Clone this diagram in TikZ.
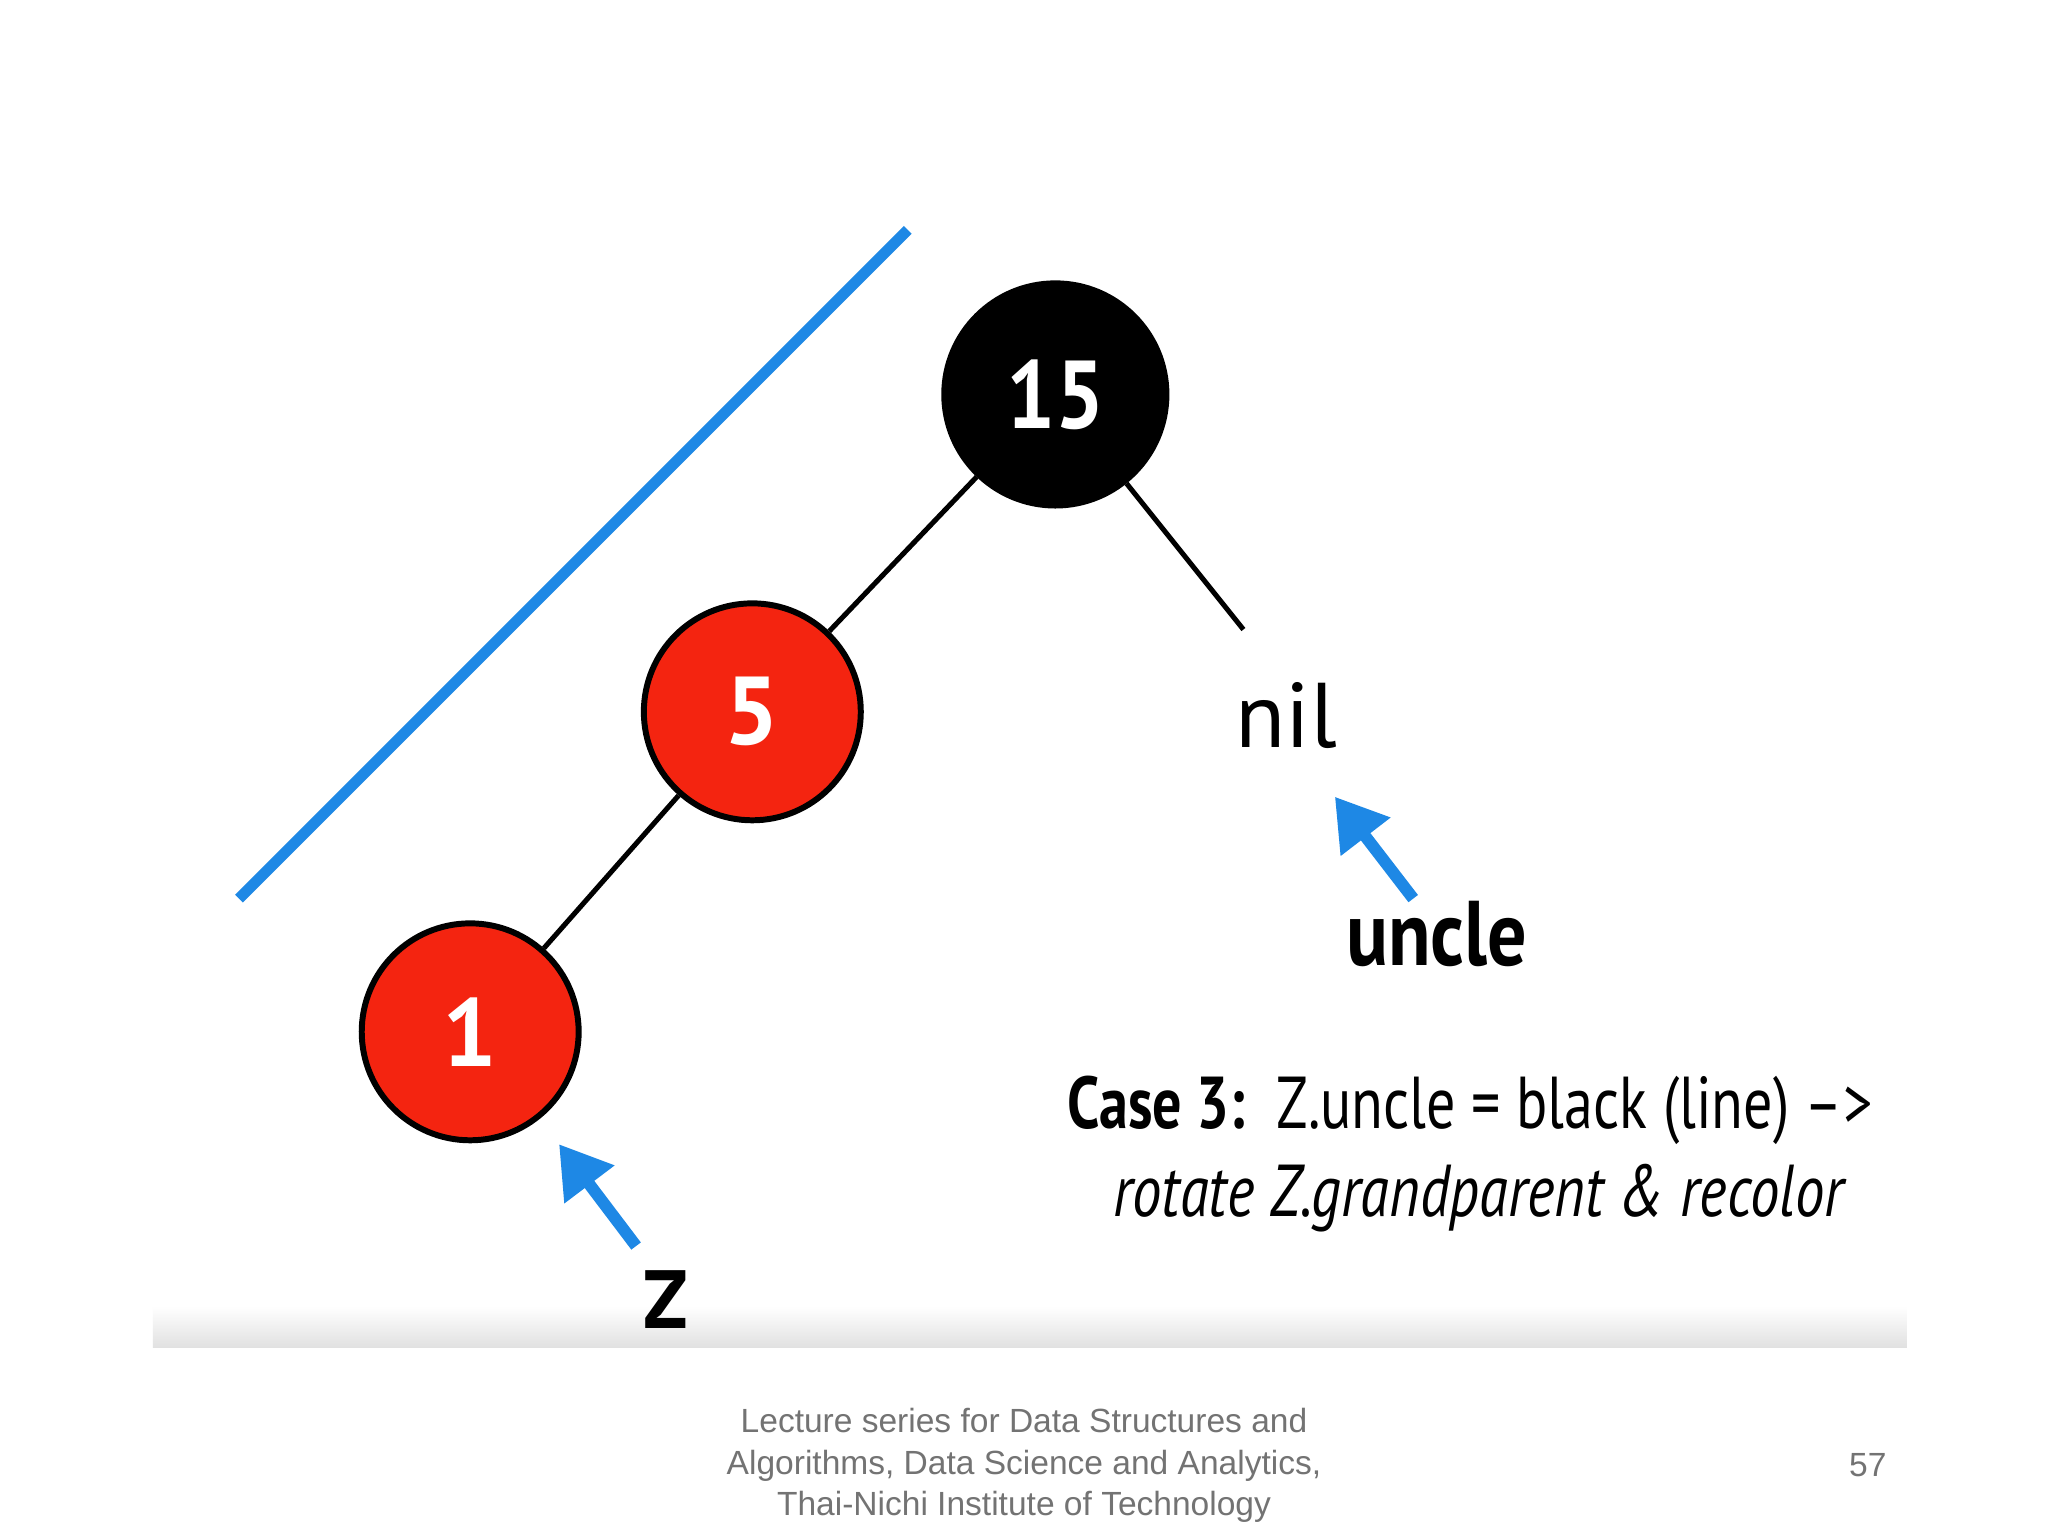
\documentclass[tikz,border=0pt]{standalone}
\usepackage{fontspec}
\usepackage{graphicx}
\setmainfont{PT Sans}
\newfontfamily\footfont{Liberation Sans}
\definecolor{rbred}{HTML}{F42410}
\definecolor{arblue}{HTML}{1E88E5}
\usetikzlibrary{arrows.meta}
\begin{document}
\begin{tikzpicture}[x=0.01cm,y=-0.01cm,
  rb/.style={circle,draw=black,line width=1.3pt,minimum size=1.66cm,inner sep=0pt,text=white,font=\fontsize{21}{24}\selectfont\bfseries},
  edge/.style={line width=1.1pt},
  barrow/.style={arblue,line width=2.6pt,-{Triangle[length=11pt,width=13pt]}},
  lbl/.style={font=\fontsize{20}{24}\selectfont\bfseries}]
\useasboundingbox (0,0) rectangle (1568,1176);
\fill[white] (0,0) rectangle (1568,1176);
\shade[top color=white,bottom color=black!12] (117,1000) rectangle (1460,1032);
\draw[arblue,line width=2.4pt] (183,688) -- (695,176);
\node[rb,fill=black,minimum size=1.7cm] (n15) at (808,302) {\scalebox{0.9}[1]{15}};
\node[rb,fill=rbred] (n5) at (576,545) {5};
\node[rb,fill=rbred] (n1) at (360,790) {1};
\coordinate (nilend) at (952,482);
\draw[edge] (n15) -- (n5);
\draw[edge] (n5) -- (n1);
\draw[edge] (n15) -- (nilend);
\node[font=\fontsize{20}{24}\selectfont] (nil) at (985,548) {nil};
\node[lbl] (uncle) at (1100,715) {\scalebox{0.85}[1]{uncle}};
\node[lbl,font=\fontsize{18}{22}\selectfont\bfseries] (z) at (510,995) {Z};
\coordinate (ua) at (1082,688);
\coordinate (za) at (487,954);
\draw[barrow] (ua) -- (1022,610);
\draw[barrow] (za) -- (428,876);
\node[anchor=west,font=\fontsize{16}{20}\selectfont] (case) at (805,850) {\scalebox{0.79}[1]{\textbf{Case 3:}\ \ Z.uncle = black (line) –>}};
\node[font=\fontsize{16}{20}\selectfont\itshape] (rot) at (1132,917) {\scalebox{0.8}[1]{rotate Z.grandparent \& recolor}};
\node[align=center,text=black!55,font=\footfont\fontsize{7.3}{9}\selectfont] (foot) at (784,1122) {Lecture series for Data Structures and\\Algorithms, Data Science and Analytics,\\Thai-Nichi Institute of Technology};
\node[text=black!55,font=\footfont\fontsize{7.3}{9}\selectfont] (pg) at (1430,1122) {57};
\end{tikzpicture}
\end{document}
